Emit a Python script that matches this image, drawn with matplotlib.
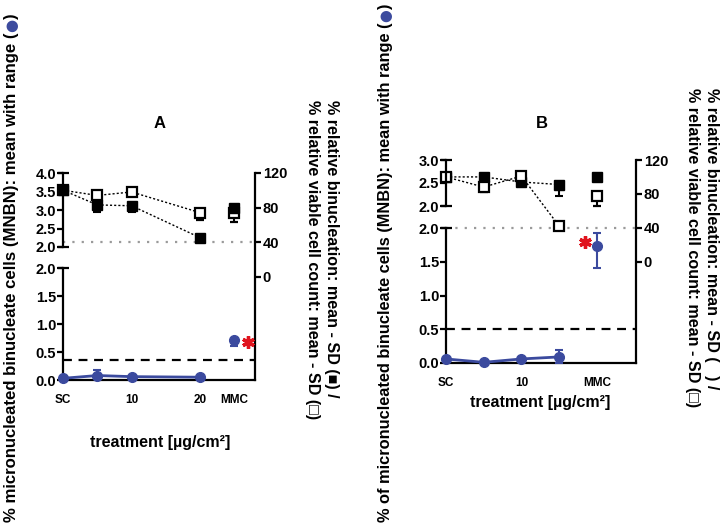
import matplotlib

matplotlib.use("Agg")

import matplotlib.pyplot as plt
from matplotlib.ticker import FormatStrFormatter

plt.rcParams["font.family"] = ["Liberation Sans", "DejaVu Sans"]
plt.rcParams["font.weight"] = "bold"

BLUE = "#3b4a9e"
RED = "#e0141e"

# panel A data
a_x = [0, 5, 10, 20, 25]
a_ticks = [0, 10, 20, 25]
a_ticklabels = ["SC", "10", "20", "MMC"]
a_mn = [0.03, 0.08, 0.06, 0.05, 0.72]
a_mn_lo = [0.03, 0.06, 0.06, 0.05, 0.60]
a_mn_hi = [0.03, 0.18, 0.06, 0.05, 0.72]
a_bin = [100, 83, 82, 45, 80]
a_bin_sd = [0, 8, 7, 0, 0]
a_via = [100, 94, 98, 74, 74]
a_via_sd = [0, 0, 0, 8, 11]
a_threshold = 0.35
a_sig_x, a_sig_y = [27.0], [0.68]

# panel B data
b_x = [0, 5, 10, 15, 20]
b_ticks = [0, 10, 20]
b_ticklabels = ["SC", "10", "MMC"]
b_mn = [0.06, 0.01, 0.06, 0.09, 1.74]
b_mn_lo = [0.06, 0.01, 0.06, 0.00, 1.41]
b_mn_hi = [0.06, 0.01, 0.06, 0.19, 1.92]
b_bin = [100, 100, 94, 91, 100]
b_bin_sd = [0, 0, 0, 13, 0]
b_via = [100, 88, 101, 42, 77]
b_via_sd = [0, 6, 0, 0, 11]
b_threshold = 0.5
b_sig_x, b_sig_y = [18.5], [1.79]

ref_line = 40  # right-axis reference
n_dose = 4  # points joined by lines (controls + doses)

W, H = 721, 524
fig = plt.figure(figsize=(W / 100, H / 100), dpi=100)


def add_ax(x0, x1, ytop, ybot):
    ax = fig.add_axes([x0 / W, 1 - ybot / H, (x1 - x0) / W, (ybot - ytop) / H])
    ax.patch.set_alpha(0)
    for side in ("top", "right", "left", "bottom"):
        ax.spines[side].set_visible(False)
        ax.spines[side].set_linewidth(1.6)
    return ax


def end_caps(ax, lims):
    tr = ax.get_yaxis_transform()
    for v in lims:
        ax.plot([-0.025, 0.03], [v, v], color="black", lw=1.6, transform=tr,
                clip_on=False, solid_capstyle="butt")


def draw_panel(box, xlim, up_lim, up_ticks, x, ticks, ticklabels, mn, mn_lo, mn_hi,
               bins, bin_sd, via, via_sd, thr, sig_x, sig_y, open_on_top):
    x0, x1, top, up_bot, low_top, bot = box

    # right axis: relative binucleation / viability
    ax_r = add_ax(x0, x1, top, bot)
    ax_r.set_xlim(*xlim)
    ax_r.set_ylim(-120, 120)
    ax_r.spines["right"].set_visible(True)
    ax_r.yaxis.tick_right()
    ax_r.set_yticks([0, 40, 80, 120])
    ax_r.set_xticks([])
    ax_r.tick_params(axis="y", length=4, width=1.6, pad=1.5, labelsize=10.5)
    ax_r.axhline(ref_line, color="#9a9a9a", lw=1.6, dashes=(1, 3.2))

    ax_r.plot(x[:n_dose], bins[:n_dose], color="black", lw=1, dashes=(1.5, 1.5))
    ax_r.plot(x[:n_dose], via[:n_dose], color="black", lw=1, dashes=(1.5, 1.5))
    zb, zv = (3, 4) if open_on_top else (4, 3)
    ax_r.errorbar(x, bins, yerr=[bin_sd, [0] * len(x)], fmt="s", ms=6.5, color="black",
                  mfc="black", ecolor="black", elinewidth=1.5, capsize=3, capthick=1.5,
                  zorder=zb, clip_on=False)
    ax_r.errorbar(x, via, yerr=[via_sd, [0] * len(x)], fmt="s", ms=6.5, color="black",
                  mfc="white", mew=1.6, ecolor="black", elinewidth=1.5, capsize=3,
                  capthick=1.5, zorder=zv, clip_on=False)

    # upper left segment
    ax_u = add_ax(x0, x1, top, up_bot)
    ax_u.set_xlim(*xlim)
    ax_u.set_ylim(*up_lim)
    ax_u.spines["left"].set_visible(True)
    ax_u.set_yticks(up_ticks)
    ax_u.set_xticks([])
    ax_u.yaxis.set_major_formatter(FormatStrFormatter("%.1f"))
    ax_u.tick_params(axis="y", length=4, width=1.6, pad=1, labelsize=10.5)
    end_caps(ax_u, up_lim)

    # lower left segment: micronucleated cells
    ax_l = add_ax(x0, x1, low_top, bot)
    ax_l.set_xlim(*xlim)
    ax_l.set_ylim(0, 2)
    ax_l.spines["left"].set_visible(True)
    ax_l.spines["bottom"].set_visible(True)
    ax_l.set_yticks([0, 0.5, 1.0, 1.5, 2.0])
    ax_l.yaxis.set_major_formatter(FormatStrFormatter("%.1f"))
    ax_l.tick_params(axis="y", length=4, width=1.6, pad=1, labelsize=10.5)
    ax_l.set_xticks(ticks)
    ax_l.set_xticklabels(ticklabels)
    ax_l.tick_params(axis="x", length=0, pad=10, labelsize=8.5)
    end_caps(ax_l, [2])

    ax_l.axhline(thr, color="black", lw=1.6, dashes=(4, 3))
    ax_l.plot(x[:n_dose], mn[:n_dose], color=BLUE, lw=2, clip_on=False, zorder=3)
    lo = [m - l for m, l in zip(mn, mn_lo)]
    hi = [h - m for m, h in zip(mn, mn_hi)]
    ax_l.errorbar(x, mn, yerr=[lo, hi], fmt="o", ms=7, color=BLUE, ecolor=BLUE,
                  elinewidth=1.5, capsize=3, capthick=1.5, clip_on=False, zorder=4)
    ax_l.plot(sig_x, sig_y, ls="none", marker=(6, 2, 0), ms=9, mew=2.4, color=RED,
              clip_on=False)


draw_panel((63, 255, 173, 247, 268, 380), (0, 28), (2, 4), [2.0, 2.5, 3.0, 3.5, 4.0],
           a_x, a_ticks, a_ticklabels, a_mn, a_mn_lo, a_mn_hi, a_bin, a_bin_sd,
           a_via, a_via_sd, a_threshold, a_sig_x, a_sig_y, open_on_top=False)
draw_panel((446, 636, 160, 206, 228, 363), (0, 25.2), (2, 3), [2.0, 2.5, 3.0],
           b_x, b_ticks, b_ticklabels, b_mn, b_mn_lo, b_mn_hi, b_bin, b_bin_sd,
           b_via, b_via_sd, b_threshold, b_sig_x, b_sig_y, open_on_top=True)

# titles and x labels
fig.text(160 / W, 1 - 123 / H, "A", ha="center", va="center", fontsize=12)
fig.text(542 / W, 1 - 123 / H, "B", ha="center", va="center", fontsize=12)
fig.text(160 / W, 1 - 443 / H, "treatment [µg/cm²]", ha="center", va="center", fontsize=11.5)
fig.text(540 / W, 1 - 403 / H, "treatment [µg/cm²]", ha="center", va="center", fontsize=11.5)


def dot_label(xb, ybot, text, size):
    kw = dict(rotation=90, rotation_mode="anchor", ha="left", va="baseline")
    t = fig.text(xb / W, 1 - ybot / H, text, fontsize=size, **kw)
    fig.canvas.draw()
    y1 = t.get_window_extent().y1 / H
    d = fig.text(xb / W, y1, "●", color=BLUE, family="DejaVu Sans", fontsize=size * 0.9, **kw)
    fig.canvas.draw()
    y2 = d.get_window_extent().y1 / H
    fig.text(xb / W, y2, ")", fontsize=size, **kw)


dot_label(16, 522, "% micronucleated binucleate cells (MNBN): mean with range (", 12.1)
dot_label(390, 522, "% of micronucleated binucleate cells (MNBN): mean with range (", 11.8)

fig.text(322 / W, 1 - 100 / H,
         "% relative binucleation: mean - SD (■) /\n% relative viable cell count: mean - SD (□)",
         rotation=270, ha="center", va="top", fontsize=11.6, linespacing=1.4,
         multialignment="left")
fig.text(702 / W, 1 - 88 / H,
         "% relative binucleation: mean - SD (   ) /\n% relative viable cell count: mean - SD (□)",
         rotation=270, ha="center", va="top", fontsize=11.6, linespacing=1.4,
         multialignment="left")

fig.savefig("out.png", dpi=100, facecolor="white")
